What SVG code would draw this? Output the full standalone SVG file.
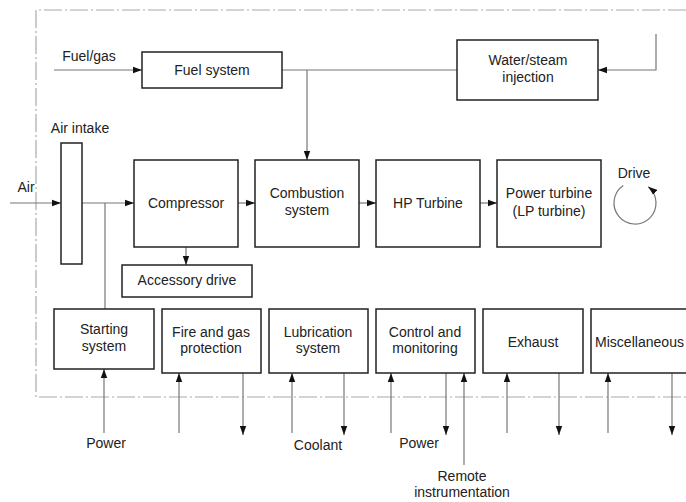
<svg xmlns="http://www.w3.org/2000/svg" width="686" height="502" viewBox="0 0 686 502">
  <style>
    text { font-family: "Liberation Sans", Arial, sans-serif; font-size: 14px; fill: #222; text-anchor: middle; }
    .box { fill: #fff; stroke: #222; stroke-width: 1.5; }
    .line { fill: none; stroke: #777; stroke-width: 1.2; }
    .border { fill: none; stroke: #aaa; stroke-width: 1.2; stroke-dasharray: 18 3 2 3; }
  </style>
  <defs>
    <marker id="arrow" markerUnits="userSpaceOnUse" markerWidth="10" markerHeight="8" refX="9" refY="4" orient="auto">
      <path d="M0,0.8 L9,4 L0,7.2 z" fill="#111"/>
    </marker>
  </defs>
  <rect width="686" height="502" fill="#fff"/>

  <!-- system boundary -->
  <path class="border" d="M686,10 H36 V397 H686"/>

  <!-- connectors -->
  <g id="connectors">
    <path class="line" d="M54,70 H142" marker-end="url(#arrow)"/>
    <path class="line" d="M282,70 H457"/>
    <path class="line" d="M307,70 V160" marker-end="url(#arrow)"/>
    <path class="line" d="M656,34 V70 H598" marker-end="url(#arrow)"/>
    <path class="line" d="M10,203 H61" marker-end="url(#arrow)"/>
    <path class="line" d="M82,203 H134" marker-end="url(#arrow)"/>
    <path class="line" d="M105,203 V309"/>
    <path class="line" d="M238,203 H255" marker-end="url(#arrow)"/>
    <path class="line" d="M359,203 H376" marker-end="url(#arrow)"/>
    <path class="line" d="M480,203 H497" marker-end="url(#arrow)"/>
    <path class="line" d="M186,247 V265" marker-end="url(#arrow)"/>
    <path class="line" d="M623.3,185.6 A21,21 0 1 0 648.2,186.7" marker-end="url(#arrow)"/>
    <!-- external inputs and outputs -->
    <path class="line" d="M104,433 V369" marker-end="url(#arrow)"/>
    <path class="line" d="M179,433 V373" marker-end="url(#arrow)"/>
    <path class="line" d="M243,373 V435" marker-end="url(#arrow)"/>
    <path class="line" d="M292,433 V373" marker-end="url(#arrow)"/>
    <path class="line" d="M344,373 V435" marker-end="url(#arrow)"/>
    <path class="line" d="M391,433 V373" marker-end="url(#arrow)"/>
    <path class="line" d="M446,373 V435" marker-end="url(#arrow)"/>
    <path class="line" d="M464,465 V373" marker-end="url(#arrow)"/>
    <path class="line" d="M507,433 V373" marker-end="url(#arrow)"/>
    <path class="line" d="M559,373 V435" marker-end="url(#arrow)"/>
    <path class="line" d="M608,433 V373" marker-end="url(#arrow)"/>
    <path class="line" d="M672,373 V435" marker-end="url(#arrow)"/>
  </g>

  <!-- flow labels -->
  <text x="89" y="61">Fuel/gas</text>
  <text x="26" y="192">Air</text>
  <text x="634" y="178">Drive</text>
  <text x="106" y="448">Power</text>
  <text x="318" y="450">Coolant</text>
  <text x="419" y="448">Power</text>
  <text x="462" y="481">Remote</text>
  <text x="462" y="497">instrumentation</text>

  <g id="fuel-system">
    <rect class="box" x="142" y="52" width="140" height="36"/>
    <text x="212" y="75">Fuel system</text>
  </g>
  <g id="water-steam-injection">
    <rect class="box" x="457" y="40" width="141" height="60"/>
    <text x="528" y="65">Water/steam</text>
    <text x="528" y="82">injection</text>
  </g>
  <g id="air-intake">
    <rect class="box" x="61" y="143" width="21" height="121"/>
    <text x="80" y="133">Air intake</text>
  </g>
  <g id="compressor">
    <rect class="box" x="134" y="160" width="104" height="87"/>
    <text x="186" y="208">Compressor</text>
  </g>
  <g id="combustion-system">
    <rect class="box" x="255" y="160" width="104" height="87"/>
    <text x="307" y="198">Combustion</text>
    <text x="307" y="215">system</text>
  </g>
  <g id="hp-turbine">
    <rect class="box" x="376" y="160" width="104" height="87"/>
    <text x="428" y="208">HP Turbine</text>
  </g>
  <g id="power-turbine">
    <rect class="box" x="497" y="160" width="104" height="87"/>
    <text x="549" y="198">Power turbine</text>
    <text x="549" y="216">(LP turbine)</text>
  </g>
  <g id="accessory-drive">
    <rect class="box" x="122" y="265" width="130" height="32"/>
    <text x="187" y="285">Accessory drive</text>
  </g>
  <g id="starting-system">
    <rect class="box" x="54" y="309" width="100" height="60"/>
    <text x="104" y="334">Starting</text>
    <text x="104" y="351">system</text>
  </g>
  <g id="fire-gas-protection">
    <rect class="box" x="162" y="309" width="99" height="64"/>
    <text x="211" y="337">Fire and gas</text>
    <text x="211" y="353">protection</text>
  </g>
  <g id="lubrication-system">
    <rect class="box" x="269" y="309" width="99" height="64"/>
    <text x="318" y="337">Lubrication</text>
    <text x="318" y="353">system</text>
  </g>
  <g id="control-monitoring">
    <rect class="box" x="376" y="309" width="99" height="64"/>
    <text x="425" y="337">Control and</text>
    <text x="425" y="353">monitoring</text>
  </g>
  <g id="exhaust">
    <rect class="box" x="483" y="309" width="100" height="64"/>
    <text x="533" y="347">Exhaust</text>
  </g>
  <g id="miscellaneous">
    <rect class="box" x="591" y="309" width="110" height="64"/>
    <text x="595" y="347" style="text-anchor:start" textLength="89" lengthAdjust="spacingAndGlyphs">Miscellaneous</text>
  </g>
</svg>
